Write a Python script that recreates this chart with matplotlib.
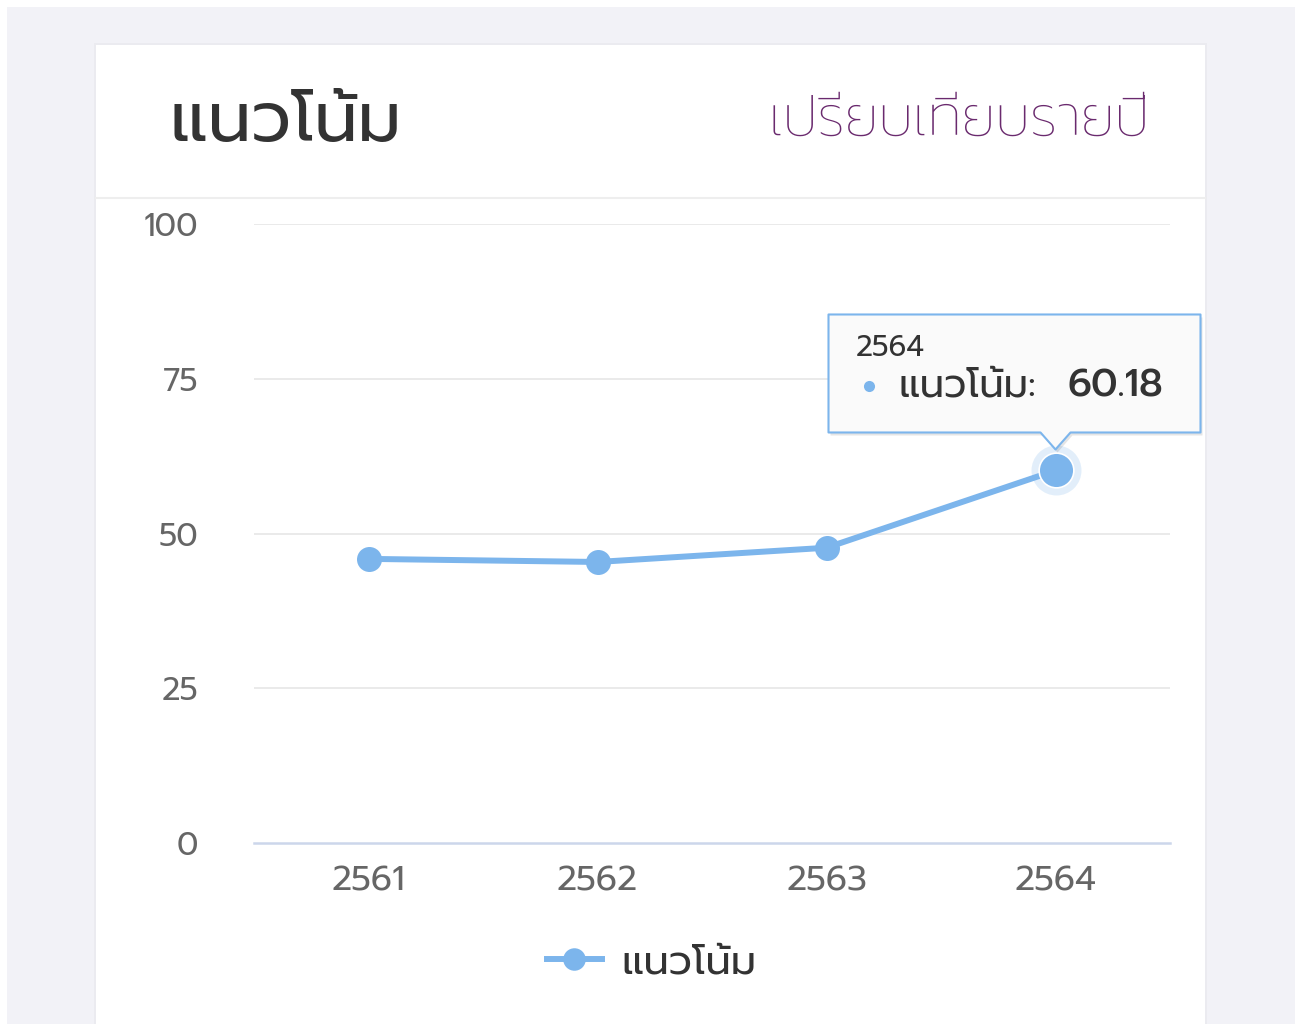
import matplotlib
matplotlib.use('Agg')
import matplotlib.pyplot as plt
import matplotlib.transforms as mtransforms
from matplotlib.patches import Rectangle, Polygon
from matplotlib.lines import Line2D

# data
years = ['2561', '2562', '2563', '2564']
trend = [45.9, 45.4, 47.7, 60.18]
y_ticks = [0, 25, 50, 75, 100]
title = 'แนวโน้ม'
subtitle = 'เปรียบเทียบรายปี'
series_name = 'แนวโน้ม'
hover_idx = 3

plt.rcParams['font.family'] = ['Prompt', 'DejaVu Sans']

W, H = 1303, 1024
LINE_C = '#7cb5ec'


def fx(x):
    return x / W


def fy(y):
    return 1 - y / H


fig = plt.figure(figsize=(W / 100, H / 100), dpi=100)
fig.patch.set_facecolor('#f2f2f7')

# white scan borders + card
fig.add_artist(Rectangle((0, fy(7)), 1, 1, transform=fig.transFigure, fc='white', ec='none', zorder=0))
fig.add_artist(Rectangle((0, 0), fx(7), 1, transform=fig.transFigure, fc='white', ec='none', zorder=0))
fig.add_artist(Rectangle((fx(1295), 0), 1, 1, transform=fig.transFigure, fc='white', ec='none', zorder=0))
fig.add_artist(Rectangle((fx(94), 0), fx(1207) - fx(94), fy(43), transform=fig.transFigure,
                         fc='#ebebf0', ec='none', zorder=0))
fig.add_artist(Rectangle((fx(96), 0), fx(1205) - fx(96), fy(45), transform=fig.transFigure,
                         fc='white', ec='none', zorder=0))
fig.add_artist(Line2D([fx(96), fx(1205)], [fy(198), fy(198)], transform=fig.transFigure,
                      color='#eeeeee', lw=1.5, zorder=1))

# header
fig.text(fx(170), fy(122), title, fontsize=50, color='#333333', va='center', ha='left')
fig.text(fx(1150), fy(120), subtitle, fontsize=40, color='#6a2a6e', va='center', ha='right',
         fontweight='light')

# plot area
ax = fig.add_axes([fx(254), fy(843), fx(1170) - fx(254), fy(224) - fy(843)])
ax.set_facecolor('none')
x = list(range(len(years)))
ax.set_xlim(-0.5, len(years) - 0.5)
ax.set_ylim(0, 100)
ax.set_yticks(y_ticks)
ax.set_yticklabels([str(v) for v in y_ticks])
ax.set_xticks(x)
ax.set_xticklabels(years)
for s in ax.spines.values():
    s.set_visible(False)
ax.tick_params(axis='y', length=0, pad=40, labelsize=23, labelcolor='#666666')
ax.tick_params(axis='x', length=0, pad=16, labelsize=25, labelcolor='#666666')
for v in y_ticks[1:]:
    ax.axhline(v, color='#e6e6e6', lw=1.2, zorder=1)
ax.axhline(0, color='#ccd6eb', lw=1.8, zorder=1, clip_on=False)

line, = ax.plot(x, trend, color=LINE_C, lw=4.3, marker='o', markersize=18,
                markeredgewidth=0, zorder=3, label=series_name, clip_on=False)

# hovered point: halo + bigger marker
ax.plot([x[hover_idx]], [trend[hover_idx]], 'o', markersize=36, color=LINE_C, alpha=0.22,
        markeredgewidth=0, zorder=2, clip_on=False)
ax.plot([x[hover_idx]], [trend[hover_idx]], 'o', markersize=25, color=LINE_C,
        markeredgecolor='white', markeredgewidth=1.2, zorder=4, clip_on=False)

# tooltip (pixel offsets from the hovered point)
px, py = ax.transData.transform((x[hover_idx], trend[hover_idx]))
x0, x1, y0, y1 = -227, 145, 38, 156
verts = [(x0, y0), (-15, y0), (0, 21), (15, y0), (x1, y0), (x1, y1), (x0, y1)]
shift = mtransforms.Affine2D().translate(px, py)
shadow = mtransforms.Affine2D().translate(px + 2, py - 3)
fig.add_artist(Polygon(verts, closed=True, transform=shadow, fc='#000000', alpha=0.10,
                       ec='none', zorder=5))
fig.add_artist(Polygon(verts, closed=True, transform=shift, fc='#fafafa', ec=LINE_C,
                       lw=1.5, zorder=6, joinstyle='round'))


def off(dx, dy):
    return mtransforms.offset_copy(ax.transData, fig, x=dx, y=dy, units='dots')


pt = (x[hover_idx], trend[hover_idx])
fig.text(*pt, years[hover_idx], transform=off(-200, 122), fontsize=21, color='#333333',
         va='center', ha='left', zorder=7)
fig.add_artist(Line2D([pt[0]], [pt[1]], transform=off(-187, 84), marker='o', markersize=8,
                      color=LINE_C, markeredgewidth=0, zorder=7))
fig.text(*pt, series_name + ':', transform=off(-157, 84), fontsize=28, color='#333333',
         va='center', ha='left', zorder=7)
fig.text(*pt, f'{trend[hover_idx]:.2f}', transform=off(12, 84), fontsize=28, color='#333333',
         va='center', ha='left', zorder=7, fontweight='medium')

# legend
leg = ax.legend(handles=[line], loc='center', bbox_to_anchor=(fx(652), fy(963)),
                bbox_transform=fig.transFigure, frameon=False, fontsize=29,
                handlelength=1.35, handletextpad=0.5, markerscale=0.9)
for t in leg.get_texts():
    t.set_color('#333333')

fig.savefig('out.png', dpi=100, facecolor=fig.get_facecolor())
